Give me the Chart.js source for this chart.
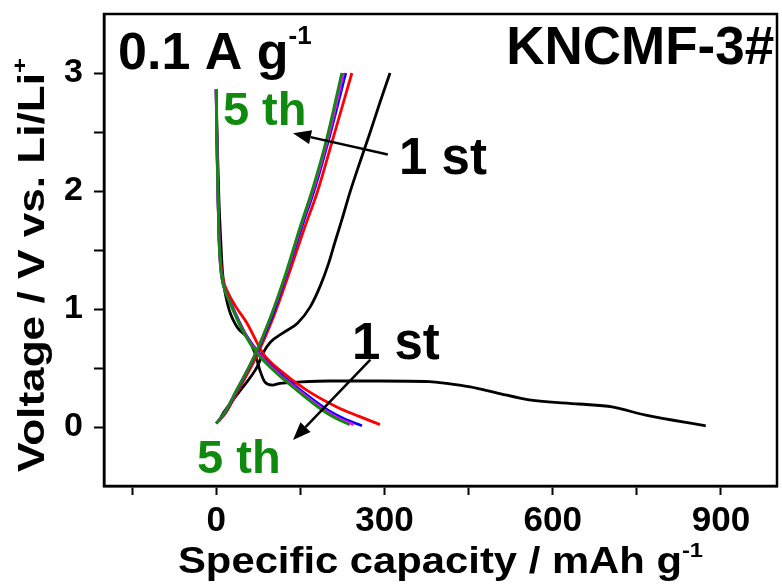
<!DOCTYPE html>
<html>
<head>
<meta charset="utf-8">
<title>KNCMF-3# charge / discharge profiles</title>
<script src="https://cdn.jsdelivr.net/npm/chart.js@4.4.1/dist/chart.umd.min.js"></script>
<style>
  html, body { margin: 0; padding: 0; background: #fff; }
  #wrap { width: 782px; height: 586px; }
</style>
</head>
<body>
<div id="wrap"><canvas id="gcd" width="782" height="586"></canvas></div>
<script>
const FONT = '"Liberation Sans", Arial, sans-serif';

// axis ranges and ticks (labelled + minor)
const xRange = [-200, 1000];
const yRange = [-0.5, 3.5];
const xTickValues = [-150, 0, 150, 300, 450, 600, 750, 900];
const xTickLabels = [0, 300, 600, 900];
const yTickValues = [0, 0.5, 1, 1.5, 2, 2.5, 3];
const yTickLabels = [0, 1, 2, 3];

// 1st cycle (black)
const dis1Cap  = [0, 2, 5, 8, 11, 20, 37, 55, 69, 78, 87, 100, 114, 145, 200, 292, 380, 411, 453, 500, 558, 647, 706, 766, 873];
const dis1Volt = [2.86, 2.4, 1.92, 1.6, 1.33, 1.05, 0.85, 0.76, 0.63, 0.48, 0.38, 0.355, 0.37, 0.38, 0.39, 0.39, 0.385, 0.37, 0.34, 0.29, 0.23, 0.195, 0.17, 0.10, 0.01];
const chg1Cap  = [5, 13, 43, 73, 84, 97, 120, 145, 168, 186, 200, 212, 225, 238, 256, 274, 292, 310];
const chg1Volt = [0.05, 0.12, 0.31, 0.51, 0.63, 0.72, 0.80, 0.88, 1.02, 1.2, 1.38, 1.57, 1.77, 1.98, 2.24, 2.49, 2.75, 3.0];

// 2nd cycle (red)
const dis2Cap  = [0, 1, 3, 5, 8, 13, 20, 35, 55, 84, 114, 162, 215, 255, 292];
const dis2Volt = [2.86, 2.5, 2.0, 1.65, 1.4, 1.24, 1.15, 1.02, 0.88, 0.62, 0.48, 0.31, 0.17, 0.09, 0.02];
const chg2Cap  = [0, 17, 38, 71, 102, 132, 157, 181, 208, 242];
const chg2Volt = [0.03, 0.12, 0.30, 0.59, 0.93, 1.33, 1.68, 2.0, 2.44, 3.0];

// 3rd cycle (blue)
const dis3Cap  = [0, 1, 3, 5, 8, 13, 26, 51, 76, 107, 151, 200, 228, 260];
const dis3Volt = [2.86, 2.5, 2.0, 1.6, 1.35, 1.2, 1.05, 0.80, 0.63, 0.48, 0.31, 0.14, 0.07, 0.01];
const chg3Cap  = [0, 16, 36, 68, 99, 128, 153, 177, 202, 231];
const chg3Volt = [0.03, 0.12, 0.30, 0.59, 0.93, 1.33, 1.70, 2.04, 2.46, 3.0];

// 4th cycle (magenta)
const dis4Cap  = [0, 1, 3, 5, 8, 13, 25, 50, 74, 104, 147, 194, 220, 245];
const dis4Volt = [2.86, 2.5, 2.0, 1.6, 1.35, 1.2, 1.05, 0.80, 0.63, 0.48, 0.31, 0.14, 0.07, 0.02];
const chg4Cap  = [0, 15, 35, 67, 97, 127, 151, 175, 200, 227];
const chg4Volt = [0.03, 0.12, 0.30, 0.59, 0.93, 1.33, 1.70, 2.04, 2.46, 3.0];

// 5th cycle (green)
const dis5Cap  = [0, 1, 3, 5, 8, 13, 25, 49, 72, 102, 144, 190, 215, 238];
const dis5Volt = [2.86, 2.5, 2.0, 1.6, 1.35, 1.2, 1.05, 0.80, 0.63, 0.48, 0.31, 0.14, 0.07, 0.02];
const chg5Cap  = [0, 15, 35, 67, 97, 126, 150, 174, 198, 224];
const chg5Volt = [0.03, 0.12, 0.30, 0.59, 0.93, 1.33, 1.70, 2.05, 2.46, 3.0];

const GREEN = '#0f8a0f';

function curve(cap, volt, color) {
    return {
        data: cap.map((c, i) => ({ x: c, y: volt[i] })),
        borderColor: color,
        borderWidth: 2.8,
        pointRadius: 0,
        showLine: true,
        fill: false,
        cubicInterpolationMode: 'monotone'
    };
}

// text with optional superscript parts; fitW stretches the run to a given width
function richText(ctx, parts, x, y, align, fitW) {
    let w = 0;
    parts.forEach(p => {
        ctx.font = 'bold ' + p.size + 'px ' + FONT;
        p.w = ctx.measureText(p.t).width;
        w += p.w;
    });
    const k = fitW ? fitW / w : 1;
    const total = w * k;
    const x0 = align === 'right' ? x - total : align === 'center' ? x - total / 2 : x;
    ctx.save();
    ctx.translate(x0, y);
    ctx.scale(k, 1);
    ctx.textAlign = 'left';
    ctx.textBaseline = 'alphabetic';
    let cx = 0;
    parts.forEach(p => {
        ctx.font = 'bold ' + p.size + 'px ' + FONT;
        ctx.fillText(p.t, cx, -(p.rise || 0));
        cx += p.w;
    });
    ctx.restore();
}

function arrow(ctx, x0, y0, x1, y1) {
    const ang = Math.atan2(y1 - y0, x1 - x0);
    const len = 18, half = 7;
    const bx = x1 - len * Math.cos(ang), by = y1 - len * Math.sin(ang);
    ctx.beginPath();
    ctx.moveTo(x0, y0);
    ctx.lineTo(bx, by);
    ctx.stroke();
    ctx.beginPath();
    ctx.moveTo(x1, y1);
    ctx.lineTo(bx - half * Math.sin(ang), by + half * Math.cos(ang));
    ctx.lineTo(bx + half * Math.sin(ang), by - half * Math.cos(ang));
    ctx.closePath();
    ctx.fill();
}

const decor = {
    id: 'decor',
    afterDraw(chart) {
        const { ctx, chartArea: a } = chart;
        const sx = chart.scales.x, sy = chart.scales.y;
        const px = v => sx.getPixelForValue(v);
        const py = v => sy.getPixelForValue(v);
        ctx.save();

        // frame
        ctx.lineWidth = 2.5;
        ctx.strokeStyle = '#000';
        ctx.strokeRect(a.left, a.top, a.right - a.left, a.bottom - a.top);

        // annotations
        ctx.fillStyle = '#000';
        richText(ctx, [{ t: '0.1 A g', size: 52 }, { t: '-1', size: 26, rise: 25 }], px(-175), py(3.03), 'left');
        richText(ctx, [{ t: 'KNCMF-3#', size: 53 }], px(995), py(3.08), 'right');
        richText(ctx, [{ t: '1 st', size: 51 }], px(326), py(2.14), 'left');
        richText(ctx, [{ t: '1 st', size: 51 }], px(242), py(0.58), 'left');
        ctx.fillStyle = GREEN;
        richText(ctx, [{ t: '5 th', size: 47 }], px(12), py(2.56), 'left');
        richText(ctx, [{ t: '5 th', size: 47 }], px(-34), py(-0.39), 'left');

        ctx.fillStyle = '#000';
        ctx.lineWidth = 2.5;
        arrow(ctx, px(306), py(2.31), px(137), py(2.49));
        arrow(ctx, px(275), py(0.57), px(137), py(-0.11));

        // axis titles
        richText(ctx, [{ t: 'Specific capacity / mAh g', size: 37 }, { t: '-1', size: 21, rise: 16 }],
            (a.left + a.right) / 2, a.bottom + 87, 'center', 525);
        ctx.translate(44, 265);
        ctx.rotate(-Math.PI / 2);
        richText(ctx, [{ t: 'Voltage / V vs. Li/Li', size: 36 }, { t: '+', size: 21, rise: 17 }], 0, 0, 'center', 414);

        ctx.restore();
    }
};

Chart.defaults.font.family = FONT;
Chart.defaults.font.weight = 'bold';
Chart.defaults.color = '#000';

new Chart(document.getElementById('gcd'), {
    type: 'scatter',
    data: {
        datasets: [
            curve(dis5Cap, dis5Volt, GREEN),
            curve(chg5Cap, chg5Volt, GREEN),
            curve(dis4Cap, dis4Volt, '#ff00ff'),
            curve(chg4Cap, chg4Volt, '#ff00ff'),
            curve(dis3Cap, dis3Volt, '#0000ff'),
            curve(chg3Cap, chg3Volt, '#0000ff'),
            curve(dis2Cap, dis2Volt, '#ff0000'),
            curve(chg2Cap, chg2Volt, '#ff0000'),
            curve(dis1Cap, dis1Volt, '#000000'),
            curve(chg1Cap, chg1Volt, '#000000')
        ]
    },
    options: {
        responsive: false,
        animation: false,
        layout: { padding: { left: 0, right: 5, top: 14, bottom: 0 } },
        plugins: {
            legend: { display: false },
            tooltip: { enabled: false }
        },
        scales: {
            x: {
                type: 'linear',
                min: xRange[0],
                max: xRange[1],
                afterBuildTicks: s => { s.ticks = xTickValues.map(v => ({ value: v })); },
                afterFit: s => { s.height = 100; s.paddingLeft = 0; s.paddingRight = 0; },
                border: { display: true, color: '#000', width: 2.5 },
                grid: { drawOnChartArea: false, drawTicks: true, tickLength: 9, tickWidth: 2, tickColor: '#000' },
                ticks: {
                    autoSkip: false,
                    maxRotation: 0,
                    padding: 5,
                    font: { size: 35, weight: 'bold' },
                    callback: v => xTickLabels.includes(v) ? String(v) : ''
                }
            },
            y: {
                type: 'linear',
                min: yRange[0],
                max: yRange[1],
                afterBuildTicks: s => { s.ticks = yTickValues.map(v => ({ value: v })); },
                afterFit: s => { s.width = 104; s.paddingTop = 0; s.paddingBottom = 0; },
                border: { display: true, color: '#000', width: 2.5 },
                grid: { drawOnChartArea: false, drawTicks: true, tickLength: 10, tickWidth: 2, tickColor: '#000' },
                ticks: {
                    autoSkip: false,
                    padding: 11,
                    font: { size: 34, weight: 'bold' },
                    callback: v => yTickLabels.includes(v) ? String(v) : ''
                }
            }
        }
    },
    plugins: [decor]
});
</script>
</body>
</html>
